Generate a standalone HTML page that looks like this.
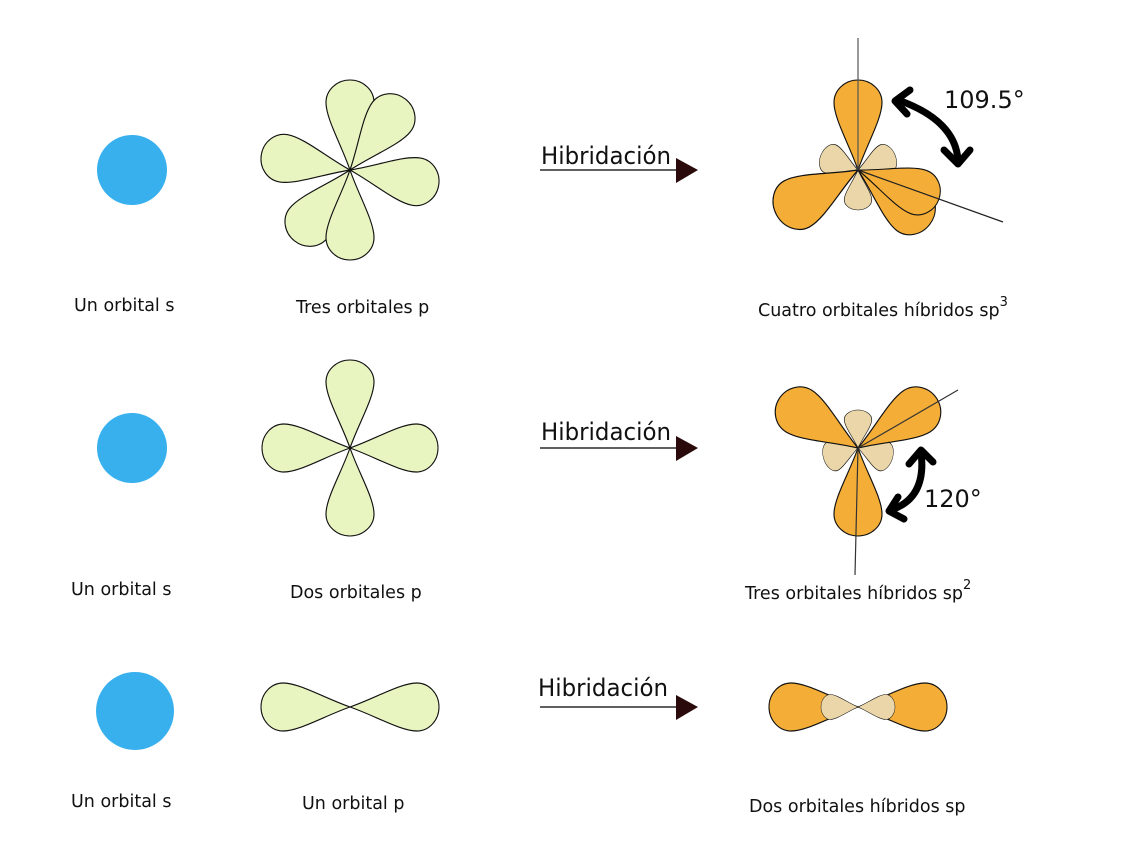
<!DOCTYPE html>
<html><head><meta charset="utf-8"><style>
html,body{margin:0;padding:0;background:#fff;}
svg{display:block;font-family:"DejaVu Sans","Liberation Sans",sans-serif;}
</style></head><body>
<svg width="1123" height="850" viewBox="0 0 1123 850" xmlns="http://www.w3.org/2000/svg">
<defs>
<path id="lobe" d="M0 0 C-9 -28 -25 -57 -25 -75 A25 25 0 0 1 25 -75 C25 -57 9 -28 0 0Z"/>
</defs>
<g stroke="#111" stroke-width="1.2">
<circle cx="132" cy="170" r="35" fill="#38b0ee" stroke="none"/>
<circle cx="132" cy="448" r="35" fill="#38b0ee" stroke="none"/>
<circle cx="135" cy="711" r="39" fill="#38b0ee" stroke="none"/>

<g fill="#e9f5c1" transform="translate(350,170)">
<use href="#lobe" transform="rotate(0) scale(0.96,0.9)"/>
<use href="#lobe" transform="rotate(38) scale(0.96,0.9)"/>
<use href="#lobe" transform="rotate(100) scale(0.96,0.9)"/>
<use href="#lobe" transform="rotate(-80) scale(0.96,0.9)"/>
<use href="#lobe" transform="rotate(-142) scale(0.96,0.9)"/>
<use href="#lobe" transform="rotate(180) scale(0.96,0.9)"/>
</g>
<g fill="#e9f5c1" transform="translate(350,448)">
<use href="#lobe" transform="rotate(0) scale(0.96,0.88)"/>
<use href="#lobe" transform="rotate(90) scale(0.96,0.88)"/>
<use href="#lobe" transform="rotate(180) scale(0.96,0.88)"/>
<use href="#lobe" transform="rotate(270) scale(0.96,0.88)"/>
</g>
<g fill="#e9f5c1" transform="translate(350,707)">
<use href="#lobe" transform="rotate(90) scale(0.96,0.89)"/>
<use href="#lobe" transform="rotate(270) scale(0.96,0.89)"/>
</g>

<g transform="translate(858,170)">
<g fill="#ead6a8">
<use href="#lobe" transform="rotate(-68) scale(0.6,0.4)"/>
<use href="#lobe" transform="rotate(68) scale(0.6,0.4)"/>
<use href="#lobe" transform="rotate(180) scale(0.55,0.4)"/>
</g>
<g fill="#f4ae38">
<use href="#lobe" transform="rotate(0) scale(0.96,0.9)"/>
<use href="#lobe" transform="rotate(-119) scale(1.05,0.93)"/>
<use href="#lobe" transform="rotate(127) scale(1.0,0.9)"/>
<use href="#lobe" transform="rotate(110) scale(0.92,0.86)"/>
</g>
</g>
<line x1="858" y1="38" x2="858" y2="170" stroke="#555"/>
<line x1="858" y1="170" x2="1003" y2="222" stroke="#222"/>
<g fill="none" stroke="#000" stroke-width="7" stroke-linecap="round" stroke-linejoin="round">
<path d="M898 100 Q955 120 958 160"/>
<polyline points="910,90 895,101 907,114"/>
<polyline points="944,150 958,164 970,150"/>
</g>

<g transform="translate(858,448)">
<g fill="#ead6a8">
<use href="#lobe" transform="rotate(0) scale(0.55,0.38)"/>
<use href="#lobe" transform="rotate(-108) scale(0.6,0.36)"/>
<use href="#lobe" transform="rotate(108) scale(0.6,0.36)"/>
</g>
<g fill="#f4ae38">
<use href="#lobe" transform="rotate(-58) scale(0.98,0.93)"/>
<use href="#lobe" transform="rotate(58) scale(0.98,0.93)"/>
<use href="#lobe" transform="rotate(180) scale(0.96,0.88)"/>
</g>
</g>
<line x1="958" y1="390" x2="858" y2="448" stroke="#333"/>
<line x1="858" y1="448" x2="855" y2="575" stroke="#333"/>
<g fill="none" stroke="#000" stroke-width="7" stroke-linecap="round" stroke-linejoin="round">
<path d="M921 452 Q927 498 891 510"/>
<polyline points="909,464 921,450 933,462"/>
<polyline points="898,497 889,511 904,519"/>
</g>

<g transform="translate(858,707)">
<g fill="#f4ae38">
<use href="#lobe" transform="rotate(-90) scale(0.96,0.89)"/>
<use href="#lobe" transform="rotate(90) scale(0.96,0.89)"/>
</g>
<g fill="#ead6a8">
<use href="#lobe" transform="rotate(-90) scale(0.5,0.37)"/>
<use href="#lobe" transform="rotate(90) scale(0.5,0.37)"/>
</g>
</g>

<g stroke="#000" stroke-width="1.2">
<line x1="540" y1="170" x2="678" y2="170"/>
<line x1="540" y1="448" x2="678" y2="448"/>
<line x1="540" y1="707" x2="678" y2="707"/>
</g>
<g fill="#2a0a0a" stroke="none">
<polygon points="676,158 698,170 676,183"/>
<polygon points="676,436 698,448 676,461"/>
<polygon points="676,695 698,707 676,720"/>
</g>
</g>

<g fill="#111" font-size="24">
<text x="541" y="164" textLength="130" lengthAdjust="spacingAndGlyphs">Hibridación</text>
<text x="541" y="440" textLength="130" lengthAdjust="spacingAndGlyphs">Hibridación</text>
<text x="538" y="696" textLength="130" lengthAdjust="spacingAndGlyphs">Hibridación</text>
<text x="944" y="108">109.5°</text>
<text x="924" y="507">120°</text>
</g>
<g fill="#111" font-size="17.5">
<text x="74" y="311">Un orbital s</text>
<text x="296" y="313">Tres orbitales p</text>
<text x="758" y="316">Cuatro orbitales híbridos sp<tspan font-size="13" dy="-10">3</tspan></text>
<text x="71" y="595">Un orbital s</text>
<text x="290" y="598">Dos orbitales p</text>
<text x="745" y="599">Tres orbitales híbridos sp<tspan font-size="13" dy="-10">2</tspan></text>
<text x="71" y="807">Un orbital s</text>
<text x="302" y="809">Un orbital p</text>
<text x="749" y="812">Dos orbitales híbridos sp</text>
</g>
</svg>
</body></html>
